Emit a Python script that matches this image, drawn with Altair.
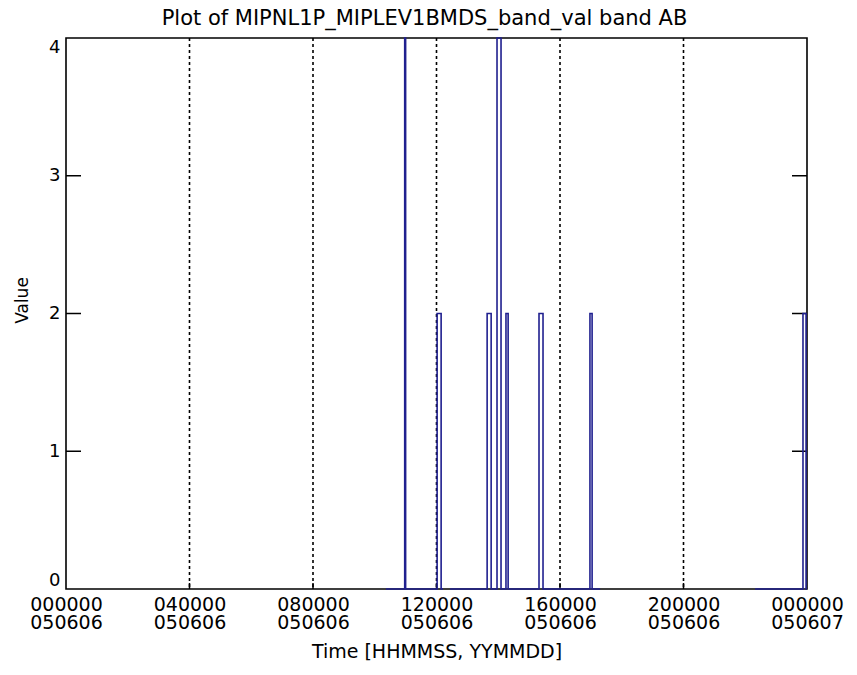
import altair as alt
import pandas as pd

# --- data ---
title_text = "Plot of MIPNL1P_MIPLEV1BMDS_band_val band AB"

seg1_hours = [10.36, 10.97, 10.97, 11.00, 11.00, 12.02, 12.02, 12.15, 12.15, 12.21]
seg1_values = [0, 0, 4, 4, 0, 0, 2, 2, 0, 0]

seg2_hours = [12.44, 13.64, 13.64, 13.77, 13.77, 13.96, 13.96, 14.09, 14.09,
              14.25, 14.25, 14.32, 14.32, 15.32, 15.32, 15.45, 15.45,
              16.97, 16.97, 17.04, 17.04, 17.30]
seg2_values = [0, 0, 2, 2, 0, 0, 4, 4, 0,
               0, 2, 2, 0, 0, 2, 2, 0,
               0, 2, 2, 0, 0]

seg3_hours = [22.32, 23.87, 23.87, 23.97, 23.97, 24.0]
seg3_values = [0, 0, 2, 2, 0, 0]

tick_hours = [0, 4, 8, 12, 16, 20, 24]
tick_time_labels = ["000000", "040000", "080000", "120000", "160000", "200000", "000000"]
tick_date_labels = ["050606", "050606", "050606", "050606", "050606", "050606", "050607"]
grid_hours = [4, 8, 12, 16, 20]
y_ticks = [0, 1, 2, 3, 4]
y_inner_ticks = [1, 2, 3]

rows = []
for sid, (hs, vs) in enumerate([(seg1_hours, seg1_values),
                                (seg2_hours, seg2_values),
                                (seg3_hours, seg3_values)]):
    for i, (h, v) in enumerate(zip(hs, vs)):
        rows.append({"hour": h, "value": v, "seg": sid, "order": i})
df = pd.DataFrame(rows)

W, H = 741, 551
xscale = alt.Scale(domain=[0, 24], nice=False, zero=False)
yscale = alt.Scale(domain=[0, 4], nice=False)

label_expr = " : ".join(
    f"datum.value == {h} ? ['{t}', '{d}']" for h, t, d in zip(tick_hours, tick_time_labels, tick_date_labels)
) + " : ''"

FONT = "DejaVu Sans"

xaxis = alt.Axis(values=tick_hours, labelExpr=label_expr, ticks=False, domain=False,
                 grid=False, labelFont=FONT, labelFontSize=19, labelColor="black",
                 labelBaseline="top", labelLineHeight=18, labelPadding=6,
                 labelFlush=False, labelOverlap=False,
                 title="Time [HHMMSS, YYMMDD]", titleFont=FONT, titleFontSize=19,
                 titleFontWeight="normal", titleColor="black", titleY=62,
                 titleBaseline="middle")
yaxis = alt.Axis(values=y_ticks, format="d", ticks=False, domain=False, grid=False,
                 labelFont=FONT, labelFontSize=18, labelColor="black", labelPadding=6,
                 labelFlush=True, labelFlushOffset=0, labelOverlap=False,
                 title="Value", titleFont=FONT, titleFontSize=17, titleFontWeight="normal",
                 titleColor="black", titleX=-44, titleY=262, titleAngle=-90,
                 titleBaseline="middle", titleAlign="center")

line = alt.Chart(df).mark_line(color="#20208f", strokeWidth=1.6).encode(
    x=alt.X("hour:Q", scale=xscale, axis=xaxis),
    y=alt.Y("value:Q", scale=yscale, axis=yaxis),
    detail="seg:N",
    order="order:Q",
)

grid = alt.Chart(pd.DataFrame({"hour": grid_hours})).mark_rule(
    color="black", strokeWidth=1.6, strokeDash=[3, 3]
).encode(x=alt.X("hour:Q", scale=xscale), y=alt.value(0), y2=alt.value(H))

xt = alt.Chart(pd.DataFrame({"hour": grid_hours})).mark_rule(
    color="black", strokeWidth=1.5
).encode(x=alt.X("hour:Q", scale=xscale), y=alt.value(H), y2=alt.value(H - 6))

yt_left = alt.Chart(pd.DataFrame({"v": y_inner_ticks})).mark_rule(
    color="black", strokeWidth=1.5
).encode(y=alt.Y("v:Q", scale=yscale), x=alt.value(0), x2=alt.value(15))

yt_right = alt.Chart(pd.DataFrame({"v": y_inner_ticks})).mark_rule(
    color="black", strokeWidth=1.5
).encode(y=alt.Y("v:Q", scale=yscale), x=alt.value(W - 15), x2=alt.value(W))

title = alt.Chart(pd.DataFrame({"t": [title_text]})).mark_text(
    font=FONT, fontSize=21, color="black", align="center", baseline="alphabetic"
).encode(text="t:N", x=alt.value(W / 2 - 12), y=alt.value(-13))

chart = alt.layer(grid, xt, yt_left, yt_right, line, title).properties(
    width=W, height=H,
    autosize=alt.AutoSizeParams(type="none"),
    padding={"left": 58, "top": 30, "right": 42, "bottom": 78},
).configure(background="white").configure_view(stroke="black", strokeWidth=1.6)

chart.save("out.html", embed_options={"renderer": "svg", "actions": False})
